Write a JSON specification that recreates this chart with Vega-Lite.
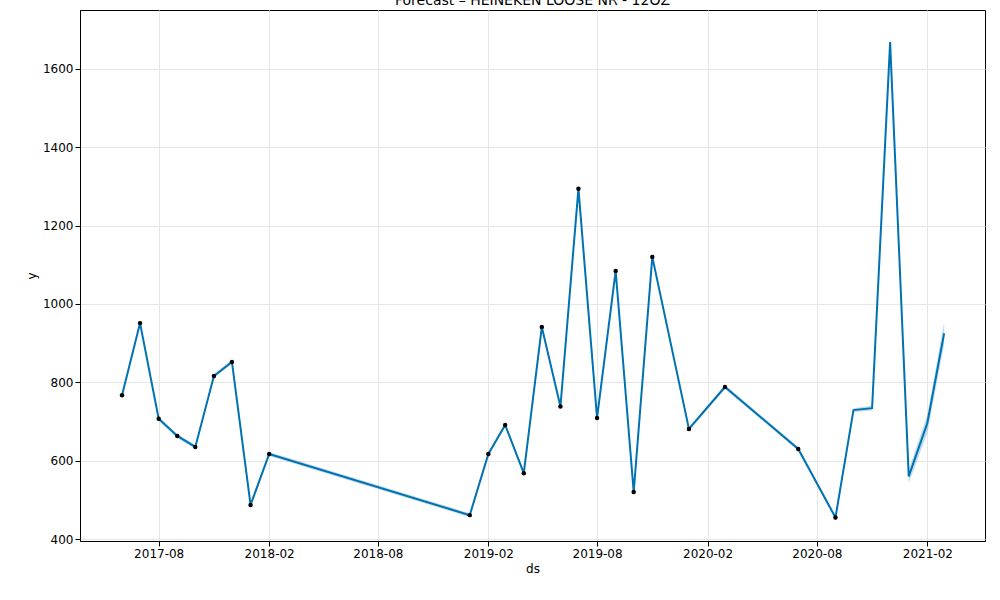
{
  "$schema": "https://vega.github.io/schema/vega-lite/v6.json",
  "autosize": "none",
  "width": 905,
  "height": 531,
  "padding": {"left": 80, "top": 10, "right": 15, "bottom": 59},
  "title": {"text": "Forecast – HEINEKEN LOOSE NR - 12OZ", "font": "DejaVu Sans", "fontSize": 14, "fontWeight": "normal", "color": "black", "offset": 2},
  "config": {"view": {"stroke": "black"}, "axis": {"labelFont": "DejaVu Sans", "titleFont": "DejaVu Sans", "labelFontSize": 12, "titleFontSize": 12, "titleFontWeight": "normal", "labelColor": "black", "titleColor": "black", "gridColor": "#e6e6e6", "domainColor": "black", "tickColor": "black"}},
  "data": {"values": [
    {"ds": "2017-06-01", "y": 767, "yhat": 767, "lo": 762, "hi": 772},
    {"ds": "2017-07-01", "y": 951, "yhat": 951, "lo": 946, "hi": 956},
    {"ds": "2017-08-01", "y": 707, "yhat": 707, "lo": 702, "hi": 712},
    {"ds": "2017-09-01", "y": 663, "yhat": 663, "lo": 658, "hi": 668},
    {"ds": "2017-10-01", "y": 635, "yhat": 635, "lo": 630, "hi": 640},
    {"ds": "2017-11-01", "y": 816, "yhat": 816, "lo": 811, "hi": 821},
    {"ds": "2017-12-01", "y": 852, "yhat": 852, "lo": 847, "hi": 857},
    {"ds": "2018-01-01", "y": 487, "yhat": 487, "lo": 482, "hi": 492},
    {"ds": "2018-02-01", "y": 617, "yhat": 617, "lo": 612, "hi": 622},
    {"ds": "2019-01-01", "y": 461, "yhat": 461, "lo": 456, "hi": 466},
    {"ds": "2019-02-01", "y": 617, "yhat": 617, "lo": 612, "hi": 622},
    {"ds": "2019-03-01", "y": 691, "yhat": 691, "lo": 686, "hi": 696},
    {"ds": "2019-04-01", "y": 568, "yhat": 568, "lo": 563, "hi": 573},
    {"ds": "2019-05-01", "y": 941, "yhat": 941, "lo": 936, "hi": 946},
    {"ds": "2019-06-01", "y": 738, "yhat": 738, "lo": 733, "hi": 743},
    {"ds": "2019-07-01", "y": 1294, "yhat": 1294, "lo": 1289, "hi": 1299},
    {"ds": "2019-08-01", "y": 709, "yhat": 709, "lo": 704, "hi": 714},
    {"ds": "2019-09-01", "y": 1084, "yhat": 1084, "lo": 1079, "hi": 1089},
    {"ds": "2019-10-01", "y": 520, "yhat": 520, "lo": 515, "hi": 525},
    {"ds": "2019-11-01", "y": 1120, "yhat": 1120, "lo": 1115, "hi": 1125},
    {"ds": "2020-01-01", "y": 681, "yhat": 681, "lo": 676, "hi": 686},
    {"ds": "2020-03-01", "y": 788, "yhat": 788, "lo": 783, "hi": 793},
    {"ds": "2020-07-01", "y": 630, "yhat": 630, "lo": 625, "hi": 635},
    {"ds": "2020-09-01", "y": 455, "yhat": 455, "lo": 450, "hi": 460},
    {"ds": "2020-10-01", "y": null, "yhat": 729, "lo": 724, "hi": 734},
    {"ds": "2020-11-01", "y": null, "yhat": 734, "lo": 728, "hi": 740},
    {"ds": "2020-12-01", "y": null, "yhat": 1668, "lo": 1658, "hi": 1678},
    {"ds": "2021-01-01", "y": null, "yhat": 560, "lo": 543, "hi": 577},
    {"ds": "2021-02-01", "y": null, "yhat": 696, "lo": 670, "hi": 717},
    {"ds": "2021-03-01", "y": null, "yhat": 925, "lo": 898, "hi": 954}
  ]},
  "encoding": {
    "x": {"field": "ds", "type": "temporal", "title": "ds",
      "scale": {"domain": ["2017-03-23", "2021-05-08"]},
      "axis": {"format": "%Y-%m", "values": ["2017-08-01", "2018-02-01", "2018-08-01", "2019-02-01", "2019-08-01", "2020-02-01", "2020-08-01", "2021-02-01"], "labelFlush": false}}
  },
  "layer": [
    {"mark": {"type": "area", "color": "#0072B2", "opacity": 0.25},
     "encoding": {"y": {"field": "lo", "type": "quantitative", "title": "y", "scale": {"domain": [395, 1750], "nice": false}, "axis": {"values": [400, 600, 800, 1000, 1200, 1400, 1600], "format": "d"}}, "y2": {"field": "hi"}}},
    {"mark": {"type": "line", "color": "#0072B2", "strokeWidth": 2},
     "encoding": {"y": {"field": "yhat", "type": "quantitative"}}},
    {"transform": [{"filter": "datum.y != null"}],
     "mark": {"type": "point", "filled": true, "color": "black", "size": 20, "opacity": 1},
     "encoding": {"y": {"field": "y", "type": "quantitative"}}}
  ]
}
